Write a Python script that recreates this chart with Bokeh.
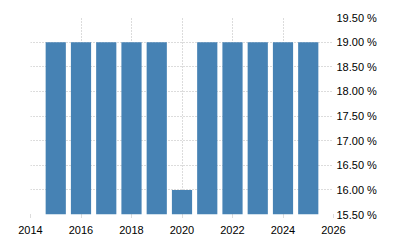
from bokeh.plotting import figure
from bokeh.models import FixedTicker, PrintfTickFormatter, Range1d
from bokeh.embed import file_html
from bokeh.resources import INLINE

years = [2015, 2016, 2017, 2018, 2019, 2020, 2021, 2022, 2023, 2024, 2025]
rates = [19.0, 19.0, 19.0, 19.0, 19.0, 16.0, 19.0, 19.0, 19.0, 19.0, 19.0]
x_ticks = [2014, 2016, 2018, 2020, 2022, 2024, 2026]
y_ticks = [15.5, 16.0, 16.5, 17.0, 17.5, 18.0, 18.5, 19.0, 19.5]

p = figure(width=400, height=250, output_backend="svg", toolbar_location=None,
           y_axis_location="right",
           x_range=Range1d(2014, 2026), y_range=Range1d(15.5, 19.5),
           min_border_left=30, min_border_top=17, min_border_bottom=36,
           min_border_right=67)
p.outline_line_color = None
p.background_fill_color = "white"
p.border_fill_color = "white"

p.vbar(x=years, top=rates, bottom=15.5, width=0.8, color="#4682B4", line_color=None)

grid_color = "#b8b8b8"
p.xgrid.ticker = FixedTicker(ticks=x_ticks)
p.ygrid.ticker = FixedTicker(ticks=y_ticks)
for g in (p.xgrid, p.ygrid):
    g.grid_line_color = grid_color
    g.grid_line_dash = "1 2"
    g.grid_line_width = 1

p.xaxis.ticker = FixedTicker(ticks=x_ticks)
p.yaxis.ticker = FixedTicker(ticks=y_ticks)
p.yaxis.formatter = PrintfTickFormatter(format="%.2f %%")

for ax in (p.xaxis, p.yaxis):
    ax.axis_line_color = None
    ax.major_tick_line_color = grid_color
    ax.major_tick_line_dash = "1 1"
    ax.minor_tick_line_color = None
    ax.major_label_text_font = "Liberation Sans"
    ax.major_label_text_font_size = "11px"
    ax.major_label_text_color = "#000000"

p.xaxis.major_tick_in = 0
p.xaxis.major_tick_out = 3
p.xaxis.major_label_standoff = 8
p.yaxis.major_tick_in = 0
p.yaxis.major_tick_out = 0
p.yaxis.major_label_standoff = 3

open("out.html", "w").write(file_html(p, INLINE))
